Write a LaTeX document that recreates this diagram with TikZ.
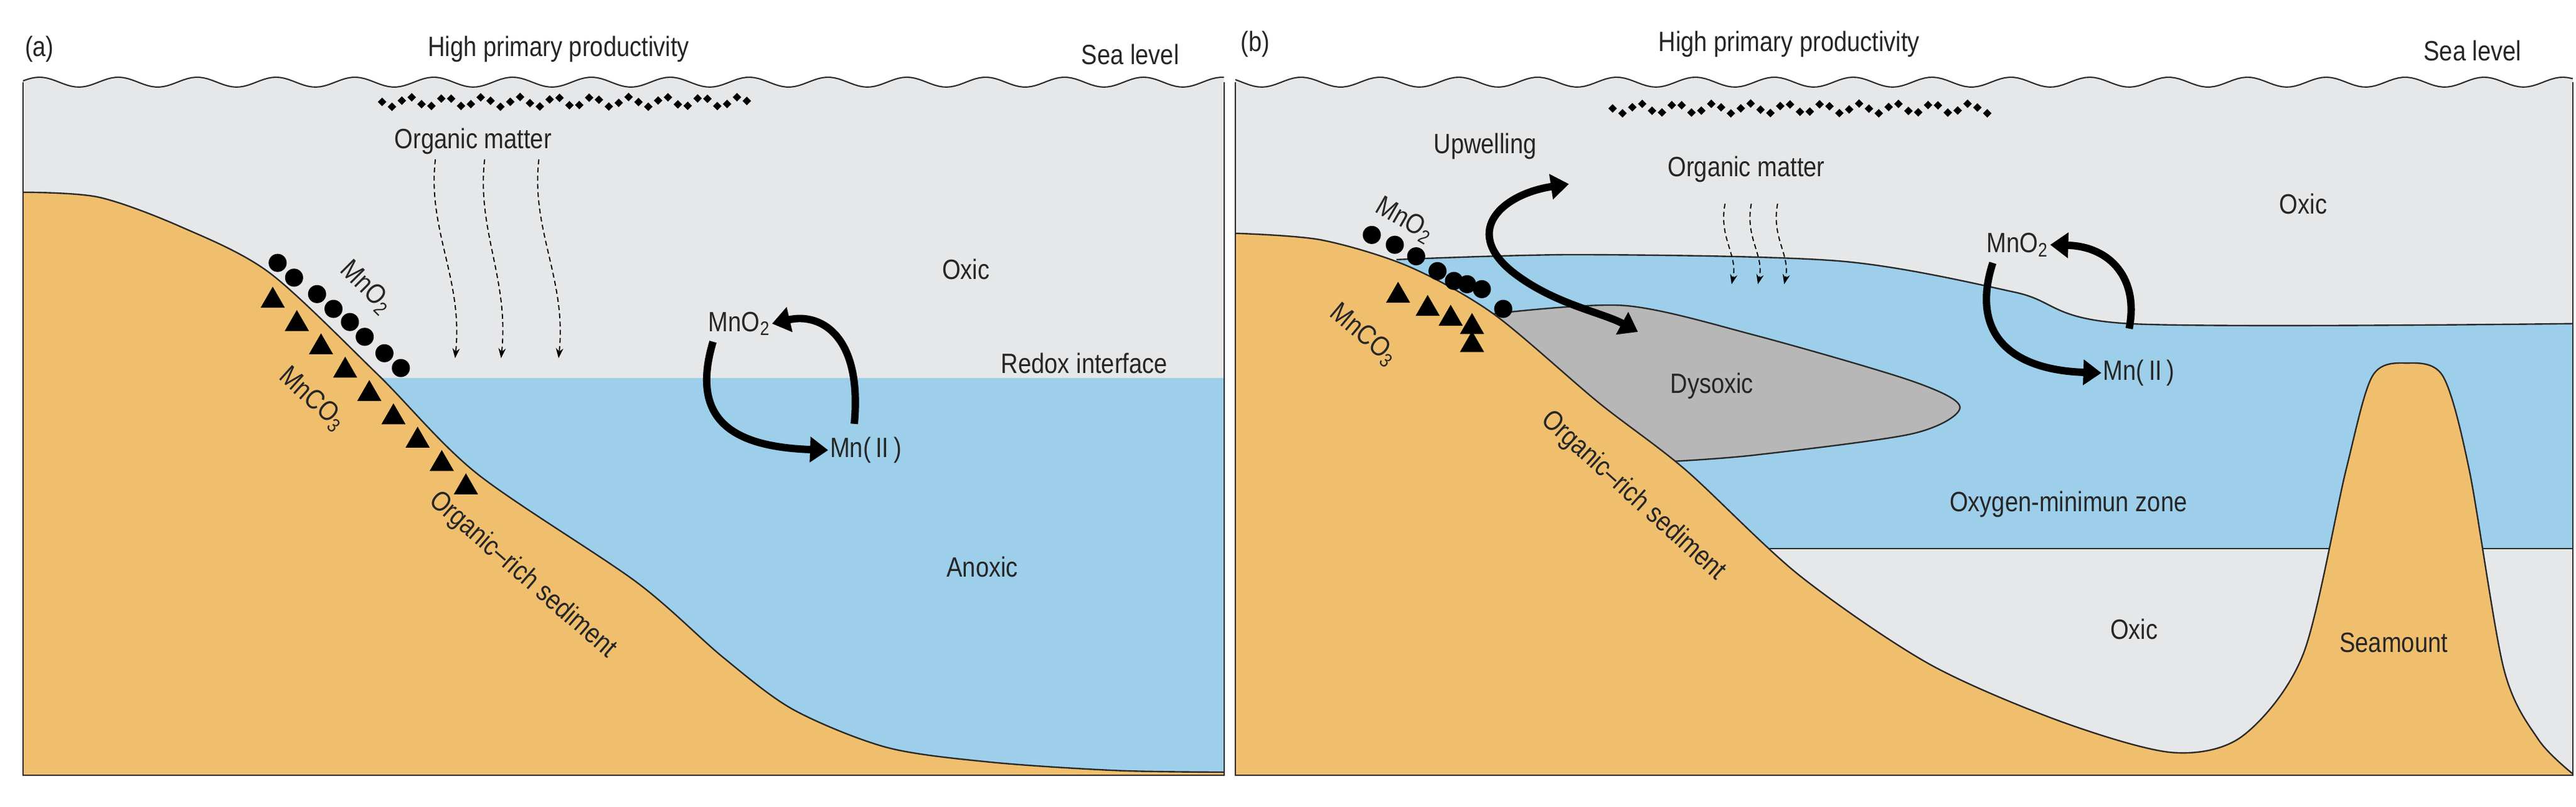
\documentclass[tikz,border=0pt]{standalone}
\usepackage{fontspec}
\setmainfont{Liberation Sans}[FakeStretch=0.85]
\usetikzlibrary{arrows.meta,shapes.geometric}
\definecolor{water}{HTML}{E6E7E8}
\definecolor{omz}{HTML}{9DCFEA}
\definecolor{sand}{HTML}{F0BF6E}
\definecolor{dys}{HTML}{B7B7B8}
\definecolor{edge}{HTML}{2A2A2A}
\begin{document}
\begin{tikzpicture}[x=1pt,y=-1pt,
  lab/.style={font=\fontsize{17}{19}\selectfont,text=black!85,inner sep=1pt},
  bnd/.style={draw=edge,line width=0.9pt},
  cyc/.style={line width=4.5pt,-{Triangle[length=11pt,width=15pt]}},
  om/.style={densely dashed,line width=0.7pt,-{Stealth[length=6pt]}},
  mo/.style={fill=black,circle,inner sep=0pt,minimum size=11pt},
  mc/.style={fill=black,regular polygon,regular polygon sides=3,inner sep=0pt,minimum size=17pt},
  dm/.style={fill=black}]
\useasboundingbox (0,0) rectangle (1568,491);
% ---------- panel a ----------
\fill[water] plot[domain=14:745,samples=300] (\x,{50+3*cos(\x/48*360)}) -- (745,472) -- (14,472) -- cycle;
\draw[edge,line width=0.8pt] plot[domain=14:745,samples=300] (\x,{50+3*cos(\x/48*360)});
\fill[omz] (200,230) rectangle (745,472);
\fill[sand] plot[smooth] coordinates {(14,117)(60,120)(110,138)(164,166)(230,228)(290,288)(387,354)(440,400)(483,432)(540,455)(604,464)(680,469)(745,470)} -- (745,472) -- (14,472) -- cycle;
\draw[bnd] plot[smooth] coordinates {(14,117)(60,120)(110,138)(164,166)(230,228)(290,288)(387,354)(440,400)(483,432)(540,455)(604,464)(680,469)(745,470)};
\foreach \i in {0,...,37}{\fill[dm] ({230+\i*6},{62+3*sin(\i*97)}) -- ++(2.6,-2.6) -- ++(2.6,2.6) -- ++(-2.6,2.6) -- cycle;}
\foreach \i [count=\k] in {0,...,8}{\node[mc] (ta\k) at ({166+\i*14.7},{183+\i*14.2}) {};}
\foreach \p [count=\k] in {(169,160),(179,169),(193,179),(203,188),(213,196),(222,205),(234,215),(244,224)}{\node[mo] (ca\k) at \p {};}
\node[lab] (a) at (24,30) {(a)};
\node[lab] (hpa) at (340,30) {High primary productivity};
\node[lab] (sla) at (688,33) {Sea level};
\node[lab] (oma) at (288,86) {Organic matter};
\node[lab,rotate=-45] (mno2a) at (223,175) {MnO\textsubscript{2}};
\node[lab,rotate=-42] (mnco3a) at (190,243) {MnCO\textsubscript{3}};
\node[lab,rotate=-41] (orsa) at (318,350) {Organic--rich sediment};
\node[lab] (oxa) at (588,164) {Oxic};
\node[lab] (rxa) at (660,221) {Redox interface};
\node[lab] (ana) at (598,345) {Anoxic};
\node[lab] (m2a) at (450,197) {MnO\textsubscript{2}};
\node[lab] (m4a) at (527,274) {Mn(\,II\,)};
\foreach \x/\e in {265/277,295/305,328/340}{\draw[om] (\x,97) .. controls (\x-5,140) and (\e+5,170) .. (\e,218);}
\draw[cyc] (434,208) .. controls (420,255) and (445,272) .. (m4a.west);
\draw[cyc] (520,258) .. controls (525,205) and (500,190) .. (m2a.east);
\draw[edge,line width=0.8pt] (14,50) -- (14,472) -- (745,472) -- (745,50);
% ---------- panel b ----------
\fill[water] plot[domain=752:1566,samples=300] (\x,{50+3*cos(\x/48*360)}) -- (1566,472) -- (752,472) -- cycle;
\draw[edge,line width=0.8pt] plot[domain=752:1566,samples=300] (\x,{50+3*cos(\x/48*360)});
\fill[omz] plot[smooth] coordinates {(850,158)(962,155)(1121,159)(1227,178)(1296,197)(1566,197)} -- (1566,334) -- (1060,334) -- (880,200) -- cycle;
\fill[dys] plot[smooth] coordinates {(909,191)(989,186)(1068,204)(1164,232)(1193,248)(1164,264)(1068,277)(1015,281)} -- (940,250) -- cycle;
\draw[bnd] plot[smooth] coordinates {(850,158)(962,155)(1121,159)(1227,178)(1296,197)(1566,197)};
\draw[bnd] plot[smooth] coordinates {(909,191)(989,186)(1068,204)(1164,232)(1193,248)(1164,264)(1068,277)(1015,281)};
\draw[bnd] (1060,334) -- (1566,334);
\fill[sand] plot[smooth] coordinates {(752,142)(804,146)(857,162)(909,191)(973,245)(1026,286)(1095,350)(1174,404)(1254,439)(1322,458)(1365,448)(1402,398)(1428,286)(1444,229)(1465,221)(1487,229)(1503,286)(1524,407)(1545,450)(1566,471)} -- (1566,472) -- (752,472) -- cycle;
\draw[bnd] plot[smooth] coordinates {(752,142)(804,146)(857,162)(909,191)(973,245)(1026,286)(1095,350)(1174,404)(1254,439)(1322,458)(1365,448)(1402,398)(1428,286)(1444,229)(1465,221)(1487,229)(1503,286)(1524,407)(1545,450)(1566,471)};
\foreach \i in {0,...,38}{\fill[dm] ({979+\i*6},{66+3*sin(\i*97)}) -- ++(2.6,-2.6) -- ++(2.6,2.6) -- ++(-2.6,2.6) -- cycle;}
\foreach \p [count=\k] in {(851,180),(869,188),(883,194),(896,199),(896,210)}{\node[mc] (tb\k) at \p {};}
\foreach \p [count=\k] in {(835,143),(849,149),(862,156),(875,165),(885,171),(893,173),(902,176),(915,188)}{\node[mo] (cb\k) at \p {};}
\node[lab] (b) at (764,27) {(b)};
\node[lab] (hpb) at (1089,27) {High primary productivity};
\node[lab] (slb) at (1505,31) {Sea level};
\node[lab] (upb) at (904,89) {Upwelling};
\node[lab] (omb) at (1063,103) {Organic matter};
\node[lab] (oxb) at (1402,124) {Oxic};
\node[lab,rotate=-30] (mno2b) at (855,134) {MnO\textsubscript{2}};
\node[lab,rotate=-40] (mnco3b) at (830,204) {MnCO\textsubscript{3}};
\node[lab,rotate=-42] (orsb) at (994,302) {Organic--rich sediment};
\node[lab] (dyb) at (1042,235) {Dysoxic};
\node[lab] (ozb) at (1259,307) {Oxygen-minimun zone};
\node[lab] (ox2b) at (1299,383) {Oxic};
\node[lab] (smb) at (1457,391) {Seamount};
\node[lab] (m2b) at (1228,149) {MnO\textsubscript{2}};
\node[lab] (m4b) at (1302,227) {Mn(\,II\,)};
\foreach \x in {1050,1066,1082}{\draw[om] (\x,124) .. controls (\x-4,145) and (\x+8,155) .. (\x+4,173);}
\coordinate (u1) at (955,112);
\coordinate (u2) at (997,202);
\draw[line width=4.5pt,{Triangle[length=11pt,width=15pt]}-{Triangle[length=11pt,width=15pt]}] (u1) .. controls (915,118) and (890,140) .. (920,165) .. controls (945,185) and (975,190) .. (u2);
\draw[cyc] (1213,160) .. controls (1200,200) and (1220,225) .. (m4b.west);
\draw[cyc] (1296,200) .. controls (1302,170) and (1285,150) .. (m2b.east);
\draw[edge,line width=0.8pt] (752,50) -- (752,472) -- (1566,472) -- (1566,50);
\end{tikzpicture}
\end{document}
